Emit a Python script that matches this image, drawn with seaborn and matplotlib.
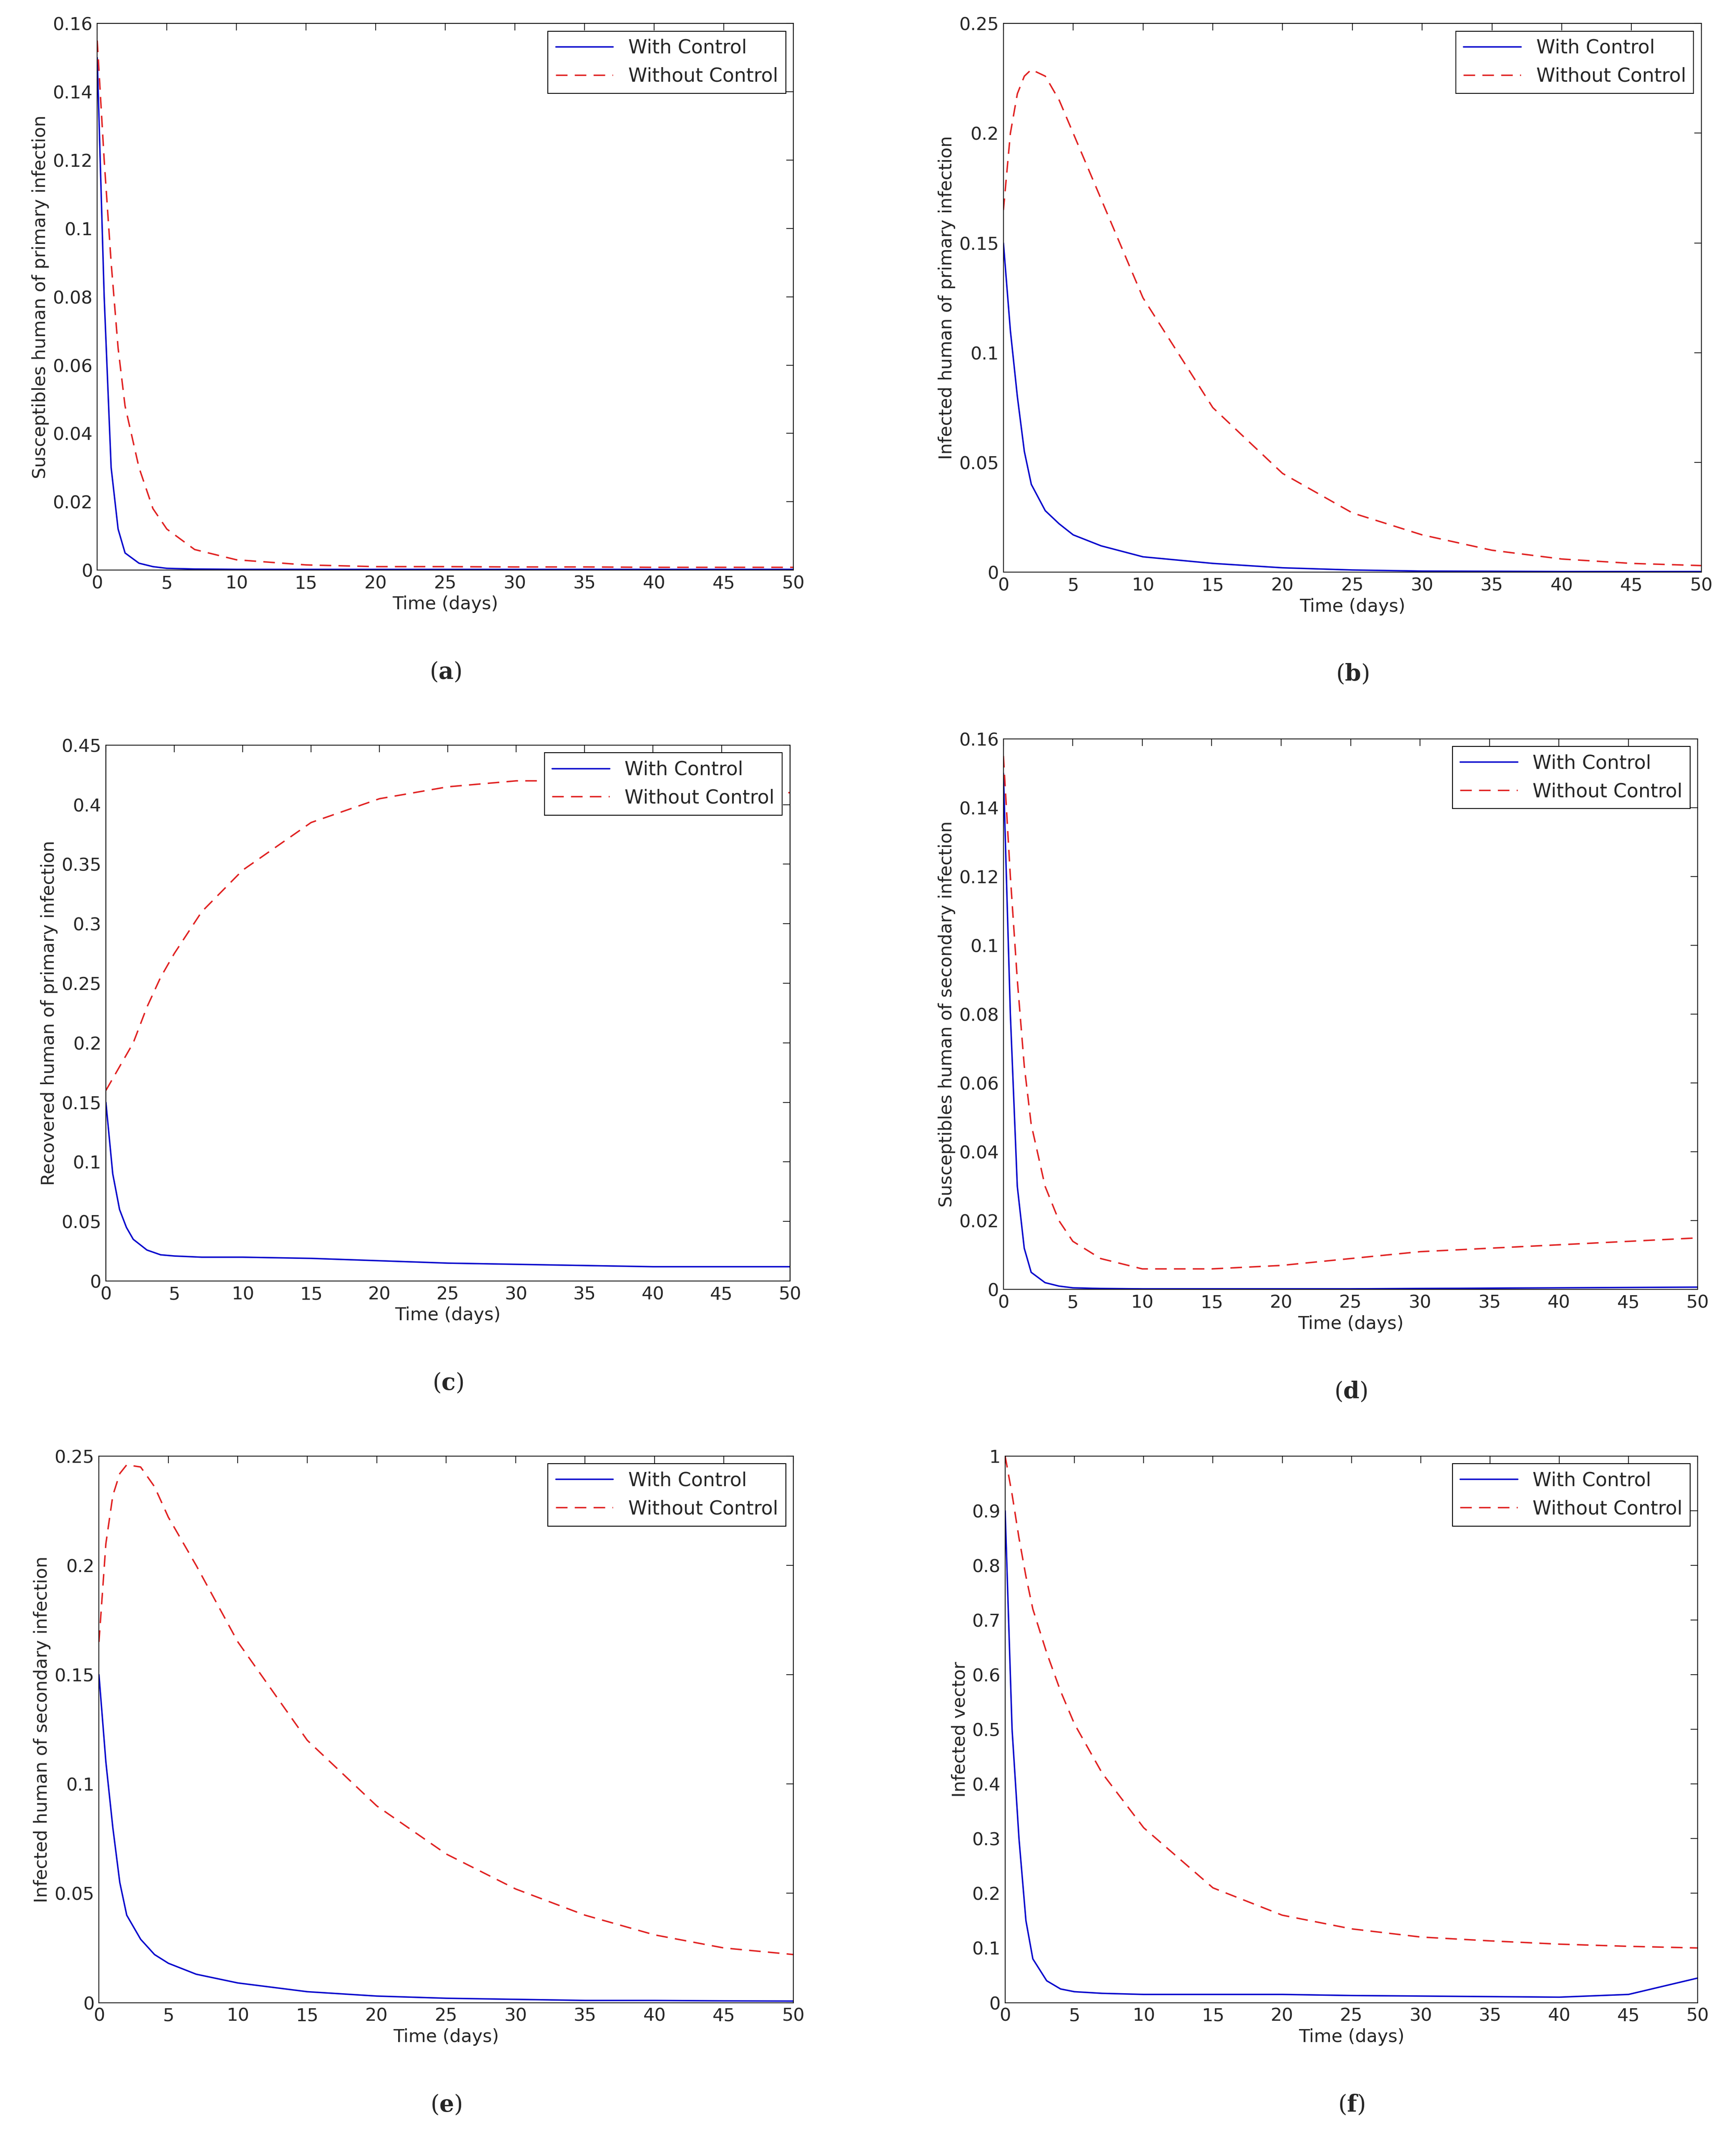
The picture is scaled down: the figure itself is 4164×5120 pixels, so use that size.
import matplotlib
matplotlib.use("Agg")
import matplotlib.pyplot as plt
import seaborn as sns
import pandas as pd

sns.set_style("white")
plt.rcParams['font.family'] = ['DejaVu Sans']
plt.rcParams['mathtext.fontset'] = 'dejavuserif'

t = [0, 0.5, 1, 1.5, 2, 3, 4, 5, 7, 10, 15, 20, 25, 30, 35, 40, 45, 50]

a_with = [0.15, 0.08, 0.03, 0.012, 0.005, 0.002, 0.001, 0.0005, 0.0003, 0.0002, 0.0002, 0.0002, 0.0002, 0.0002, 0.0002, 0.0002, 0.0002, 0.0002]
a_without = [0.155, 0.12, 0.09, 0.065, 0.048, 0.03, 0.018, 0.012, 0.006, 0.003, 0.0015, 0.001, 0.001, 0.0009, 0.0009, 0.0008, 0.0008, 0.0008]
b_with = [0.15, 0.11, 0.08, 0.055, 0.04, 0.028, 0.022, 0.017, 0.012, 0.007, 0.004, 0.002, 0.001, 0.0005, 0.0004, 0.0003, 0.0003, 0.0003]
b_without = [0.165, 0.2, 0.218, 0.226, 0.229, 0.226, 0.215, 0.2, 0.17, 0.125, 0.075, 0.045, 0.027, 0.017, 0.01, 0.006, 0.004, 0.003]
c_with = [0.15, 0.09, 0.06, 0.045, 0.035, 0.026, 0.022, 0.021, 0.02, 0.02, 0.019, 0.017, 0.015, 0.014, 0.013, 0.012, 0.012, 0.012]
c_without = [0.16, 0.17, 0.18, 0.19, 0.2, 0.23, 0.255, 0.275, 0.31, 0.345, 0.385, 0.405, 0.415, 0.42, 0.42, 0.42, 0.415, 0.41]
d_with = [0.15, 0.08, 0.03, 0.012, 0.005, 0.002, 0.001, 0.0005, 0.0003, 0.0002, 0.0002, 0.0002, 0.0002, 0.0003, 0.0004, 0.0005, 0.0006, 0.0007]
d_without = [0.155, 0.12, 0.09, 0.065, 0.048, 0.03, 0.02, 0.014, 0.009, 0.006, 0.006, 0.007, 0.009, 0.011, 0.012, 0.013, 0.014, 0.015]
e_with = [0.15, 0.11, 0.08, 0.055, 0.04, 0.029, 0.022, 0.018, 0.013, 0.009, 0.005, 0.003, 0.002, 0.0015, 0.001, 0.001, 0.0008, 0.0007]
e_without = [0.165, 0.21, 0.232, 0.242, 0.246, 0.245, 0.236, 0.222, 0.2, 0.165, 0.12, 0.09, 0.068, 0.052, 0.04, 0.031, 0.025, 0.022]
f_with = [0.9, 0.5, 0.3, 0.15, 0.08, 0.04, 0.025, 0.02, 0.017, 0.015, 0.015, 0.015, 0.013, 0.012, 0.011, 0.01, 0.015, 0.045]
f_without = [1.0, 0.93, 0.85, 0.78, 0.72, 0.64, 0.57, 0.51, 0.42, 0.32, 0.21, 0.16, 0.135, 0.12, 0.113, 0.107, 0.103, 0.1]

panels = [
    ("a", a_with, a_without, "Susceptibles human of primary infection", 0.16, 0.02, [0.056, 0.733, 0.401, 0.256]),
    ("b", b_with, b_without, "Infected human of primary infection", 0.25, 0.05, [0.578, 0.732, 0.402, 0.257]),
    ("c", c_with, c_without, "Recovered human of primary infection", 0.45, 0.05, [0.061, 0.400, 0.394, 0.251]),
    ("d", d_with, d_without, "Susceptibles human of secondary infection", 0.16, 0.02, [0.578, 0.396, 0.400, 0.258]),
    ("e", e_with, e_without, "Infected human of secondary infection", 0.25, 0.05, [0.057, 0.062, 0.400, 0.256]),
    ("f", f_with, f_without, "Infected vector", 1.0, 0.1, [0.579, 0.062, 0.399, 0.256]),
]

fig = plt.figure(figsize=(41.64, 51.2), dpi=100)
fs = 31
for letter, w, wo, ylabel, ymax, ystep, pos in panels:
    ax = fig.add_axes(pos)
    df = pd.DataFrame({"t": t, "w": w, "wo": wo})
    sns.lineplot(data=df, x="t", y="w", ax=ax, color="#0000cc", lw=2.5, label="With Control")
    sns.lineplot(data=df, x="t", y="wo", ax=ax, color="#e02020", lw=2.5, ls=(0, (8, 5)), label="Without Control")
    ax.set_xlim(0, 50)
    ax.set_ylim(0, ymax)
    ax.set_xticks(range(0, 51, 5))
    n = int(round(ymax / ystep))
    yt = [round(i * ystep, 2) for i in range(n + 1)]
    ax.set_yticks(yt)
    ax.set_yticklabels([("%g" % v) for v in yt])
    ax.tick_params(direction="in", length=12, width=1.5, labelsize=fs, top=True, right=True, pad=8)
    for s in ax.spines.values():
        s.set_linewidth(1.5)
        s.set_color("black")
    ax.set_xlabel("Time (days)", fontsize=fs, labelpad=6)
    ax.set_ylabel(ylabel, fontsize=fs, labelpad=6)
    leg = ax.legend(loc="upper right", fontsize=fs + 2, fancybox=False, framealpha=1,
                    edgecolor="black", handlelength=3, borderaxespad=0.4)
    leg.get_frame().set_linewidth(1.5)
    fig.text(pos[0] + pos[2] / 2, pos[1] - 0.048, r"($\mathbf{%s}$)" % letter,
             ha="center", va="center", fontsize=40, family="DejaVu Serif")

fig.savefig("out.png", dpi=100, facecolor="white")
